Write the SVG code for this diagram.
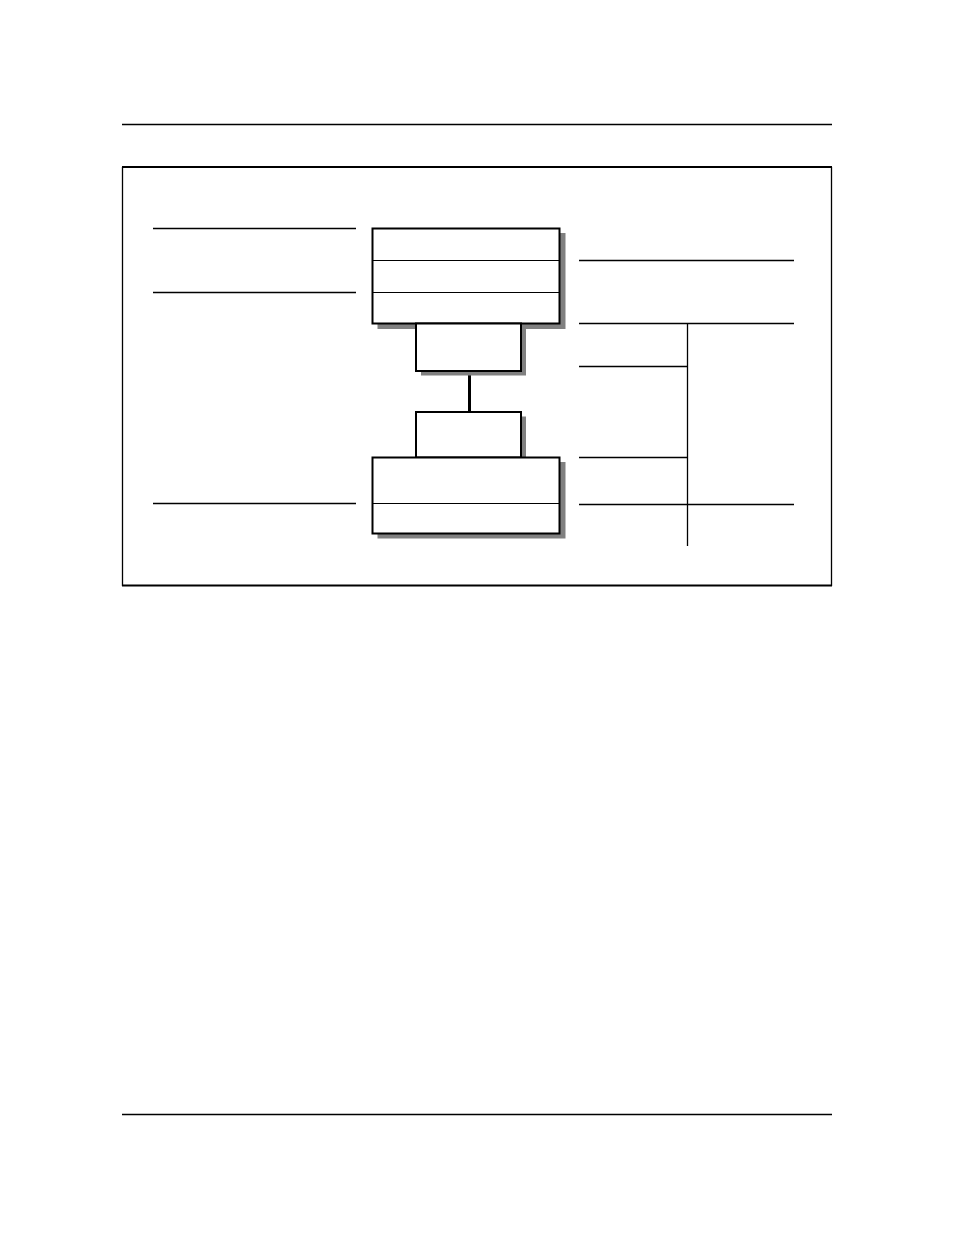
<svg xmlns="http://www.w3.org/2000/svg" width="954" height="1235" viewBox="0 0 954 1235">
<style>
.rule{stroke:#000;stroke-width:1.3;fill:none}
.ln{stroke:#000;stroke-width:1.3;fill:none}
.box{fill:#fff;stroke:#000;stroke-width:2}
.shadow{fill:#808080;stroke:none}
.div{stroke:#000;stroke-width:1.2}
</style>
<rect width="954" height="1235" fill="#fff"/>
<line class="rule" x1="122" y1="124.5" x2="832" y2="124.5"/>
<line class="rule" x1="122" y1="1114.5" x2="832" y2="1114.5"/>
<g id="frame">
<line x1="122.5" y1="167" x2="122.5" y2="586" stroke="#000" stroke-width="1.3"/>
<line x1="831.5" y1="167" x2="831.5" y2="586" stroke="#000" stroke-width="1.3"/>
<line x1="122" y1="167" x2="832" y2="167" stroke="#000" stroke-width="2"/>
<line x1="122" y1="585.5" x2="832" y2="585.5" stroke="#000" stroke-width="2"/>
</g>
<g id="connectors">
<line class="ln" x1="153" y1="228.5" x2="356" y2="228.5"/>
<line class="ln" x1="153" y1="292.5" x2="356" y2="292.5"/>
<line class="ln" x1="153" y1="503.5" x2="356" y2="503.5"/>
<line class="ln" x1="579" y1="260.5" x2="794" y2="260.5"/>
<line class="ln" x1="579" y1="323.5" x2="794" y2="323.5"/>
<line class="ln" x1="579" y1="366.5" x2="687.5" y2="366.5"/>
<line class="ln" x1="579" y1="457.5" x2="687.5" y2="457.5"/>
<line class="ln" x1="579" y1="504.5" x2="794" y2="504.5"/>
<line class="ln" x1="687.5" y1="323" x2="687.5" y2="546"/>
<line x1="469.5" y1="371" x2="469.5" y2="412" stroke="#000" stroke-width="3"/>
</g>
<g id="node-top">
<rect class="shadow" x="377.5" y="233" width="188" height="96"/>
<rect class="box" x="372.5" y="228.5" width="187" height="95"/>
<line class="div" x1="372.5" y1="260.5" x2="559.5" y2="260.5"/>
<line class="div" x1="372.5" y1="292.5" x2="559.5" y2="292.5"/>
</g>
<g id="node-mid1">
<rect class="shadow" x="421" y="328" width="105" height="47.5"/>
<rect class="box" x="416" y="323.5" width="105" height="47.5"/>
</g>
<g id="node-mid2">
<rect class="shadow" x="421" y="416.5" width="105" height="45"/>
<rect class="box" x="416" y="412" width="105" height="45.5"/>
</g>
<g id="node-bottom">
<rect class="shadow" x="377.5" y="462" width="188" height="76.5"/>
<rect class="box" x="372.5" y="457.5" width="187" height="76"/>
<line class="div" x1="372.5" y1="503.5" x2="559.5" y2="503.5"/>
</g>
</svg>
